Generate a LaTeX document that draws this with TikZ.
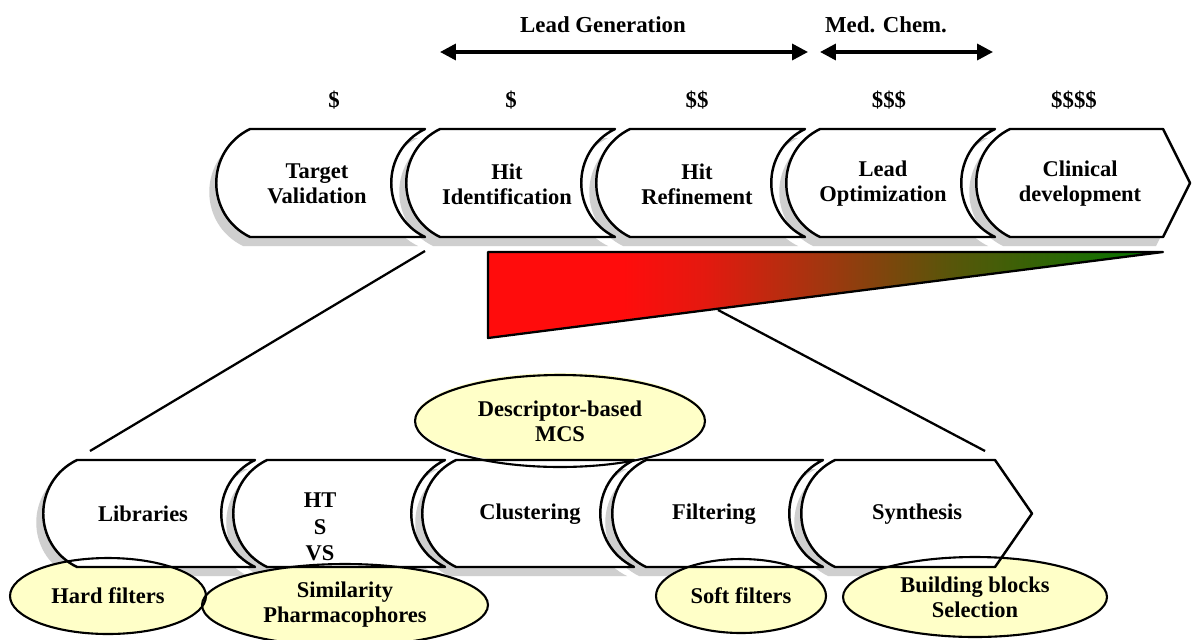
\documentclass[tikz,border=0pt]{standalone}
\usepackage{fontspec}
\setmainfont{Liberation Serif}
\usetikzlibrary{arrows.meta,shapes.geometric}
\definecolor{ellfill}{RGB}{255,255,200}
\definecolor{cA}{RGB}{255,12,12}
\definecolor{cB}{RGB}{228,25,15}
\definecolor{cC}{RGB}{160,55,15}
\definecolor{cD}{RGB}{90,85,10}
\definecolor{cE}{RGB}{0,120,0}
\pgfdeclarehorizontalshading{redgreen}{100bp}{color(0bp)=(cA); color(25bp)=(cA); color(35bp)=(cA); color(41bp)=(cB); color(50bp)=(cC); color(59bp)=(cD); color(75bp)=(cE); color(100bp)=(cE)}
% block with concave right edge: xL, xR, top, bottom, style
\newcommand\blk[5]{\draw[#5] (#1,#3) -- (#2,#3) .. controls ({#2-45},{#3+22}) and ({#2-45},{#4-22}) .. (#2,#4) -- (#1,#4) .. controls ({#1-45},{#4-22}) and ({#1-45},{#3+22}) .. (#1,#3) -- cycle;}
% block with pointed right edge: xL, xTopRight, top, bottom, xTip, style
\newcommand\arrblk[6]{\draw[#6] (#1,#3) -- (#2,#3) -- (#5,{(#3+#4)/2}) -- (#2,#4) -- (#1,#4) .. controls ({#1-45},{#4-22}) and ({#1-45},{#3+22}) .. (#1,#3) -- cycle;}
\tikzset{
  blockst/.style={draw=black, fill=white, line width=1.4pt, line join=round},
  shadowst/.style={fill=gray!38, draw=none, shift={(-7,9)}},
  lbl/.style={font=\fontsize{12.8}{14.2}\selectfont\bfseries, align=center, inner sep=0pt},
  toplbl/.style={font=\fontsize{13}{14.5}\selectfont\bfseries, inner sep=0pt},
  ellbg/.style={ellipse, fill=ellfill, draw=none, inner sep=0pt},
  ellfg/.style={ellipse, draw=black, line width=1.2pt, inner sep=0pt, align=center, font=\fontsize{12.8}{14.2}\selectfont\bfseries},
  conn/.style={draw=black, line width=1.3pt},
  span/.style={draw=black, line width=2pt, {Triangle[length=9pt,width=9pt]}-{Triangle[length=9pt,width=9pt]}}
}
\begin{document}
\begin{tikzpicture}[x=0.02cm, y=-0.02cm]
\useasboundingbox (0,0) rectangle (1192,639);
\fill[white] (0,0) rectangle (1192,639);

% ---- shadows
\blk{250}{425}{129}{237}{shadowst}
\blk{440}{615}{129}{237}{shadowst}
\blk{630}{805}{129}{237}{shadowst}
\blk{820}{995}{129}{237}{shadowst}
\arrblk{1010}{1163}{129}{237}{1190}{shadowst}
\blk{77}{255}{460}{567}{shadowst}
\blk{267}{445}{460}{567}{shadowst}
\blk{456}{634}{460}{567}{shadowst}
\blk{646}{823}{460}{567}{shadowst}
\arrblk{835}{995}{460}{567}{1032}{shadowst}

% ---- ellipse fills
\node[ellbg, minimum width=5.8cm, minimum height=1.84cm] (mcsbg) at (560,419) {};
\node[ellbg, minimum width=3.92cm, minimum height=1.52cm] (hardbg) at (108,596) {};
\node[ellbg, minimum width=5.72cm, minimum height=1.64cm] (simbg) at (345,605) {};
\node[ellbg, minimum width=3.4cm, minimum height=1.48cm] (softbg) at (741,596) {};
\node[ellbg, minimum width=5.28cm, minimum height=1.6cm] (bbbg) at (975,597) {};

% ---- top row blocks
\blk{250}{425}{129}{237}{blockst}
\blk{440}{615}{129}{237}{blockst}
\blk{630}{805}{129}{237}{blockst}
\blk{820}{995}{129}{237}{blockst}
\arrblk{1010}{1163}{129}{237}{1190}{blockst}

% ---- bottom row blocks
\blk{77}{255}{460}{567}{blockst}
\blk{267}{445}{460}{567}{blockst}
\blk{456}{634}{460}{567}{blockst}
\blk{646}{823}{460}{567}{blockst}
\arrblk{835}{995}{460}{567}{1032}{blockst}

% ---- zoom connector lines
\coordinate (zA1) at (425,251);
\coordinate (zA2) at (90,451);
\coordinate (zB1) at (718,310);
\coordinate (zB2) at (985,451);
\draw[conn] (zA1) -- (zA2);
\draw[conn] (zB1) -- (zB2);

% ---- cost triangle
\coordinate (t1) at (488,252);
\coordinate (t2) at (1163,252);
\coordinate (t3) at (488,338);
\shadedraw[shading=redgreen, draw=black, line width=1.3pt, line join=round] (t1) -- (t2) -- (t3) -- cycle;

% ---- ellipses (outline + text)
\node[ellfg, minimum width=5.8cm, minimum height=1.84cm] (mcs) at (560,421) {Descriptor-based\\MCS};
\node[ellfg, minimum width=3.92cm, minimum height=1.52cm] (hard) at (108,596) {Hard filters};
\node[ellfg, minimum width=5.72cm, minimum height=1.64cm] (sim) at (345,605) {Similarity\\Pharmacophores};
\node[ellfg, minimum width=3.4cm, minimum height=1.48cm] (soft) at (741,596) {Soft filters};
\node[ellfg, minimum width=5.28cm, minimum height=1.6cm] (bb) at (975,597) {Building blocks\\Selection};

% ---- block labels, top row
\node[lbl] (tv) at (317,184) {Target\\Validation};
\node[lbl] (hi) at (507,184) {Hit\\Identification};
\node[lbl] (hr) at (697,184) {Hit\\Refinement};
\node[lbl] (lo) at (883,184) {Lead\\Optimization};
\node[lbl] (cd) at (1080,184) {Clinical\\development};

% ---- block labels, bottom row
\node[lbl] (lib) at (143,514) {Libraries};
\node[lbl, font=\fontsize{12.8}{15}\selectfont\bfseries] (hts) at (320,527) {HT\\S\\VS};
\node[lbl] (clu) at (530,514) {Clustering};
\node[lbl] (fil) at (714,514) {Filtering};
\node[lbl] (syn) at (917,514) {Synthesis};

% ---- cost labels
\node[toplbl] (d1) at (334,100) {\$};
\node[toplbl] (d2) at (511,100) {\$};
\node[toplbl] (d3) at (697,100) {\$\$};
\node[toplbl] (d4) at (889,100) {\$\$\$};
\node[toplbl] (d5) at (1074,100) {\$\$\$\$};

% ---- phase spans
\node[toplbl] (lg) at (603,25) {Lead Generation};
\node[toplbl] (mc) at (886,25) {Med. Chem.};
\coordinate (lgL) at (440,52);
\coordinate (lgR) at (808,52);
\coordinate (mcL) at (820,52);
\coordinate (mcR) at (993,52);
\draw[span] (lgL) -- (lgR);
\draw[span] (mcL) -- (mcR);
\end{tikzpicture}
\end{document}
